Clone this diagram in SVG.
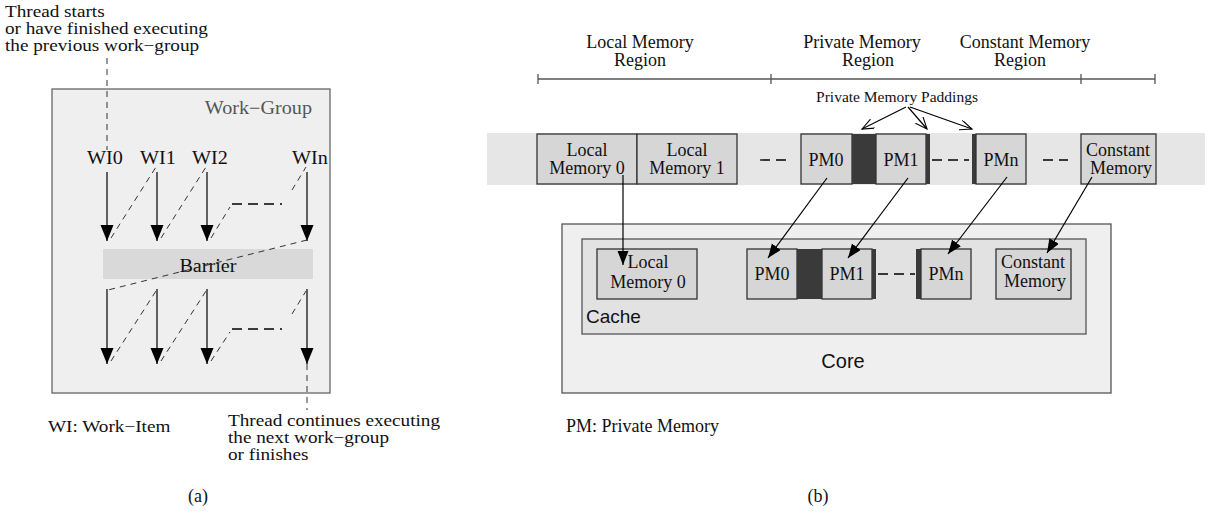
<svg xmlns="http://www.w3.org/2000/svg" width="1208" height="518" viewBox="0 0 1208 518">
<style>
text{font-family:"Liberation Serif","Times New Roman",serif;font-size:18px;fill:#111}
.sans{font-family:"Liberation Sans",Arial,sans-serif}
.mid{text-anchor:middle}
.note{font-size:16px;transform-box:fill-box;transform-origin:0 0;transform:scaleX(1.2)}
.wi{font-size:18px;transform-box:fill-box;transform-origin:50% 0;transform:scaleX(1.12)}
.wg{font-size:18px;fill:#555;transform-box:fill-box;transform-origin:100% 0;transform:scaleX(1.12)}
.box{fill:#d6d6d6;stroke:#333;stroke-width:1.3}
.ln{stroke:#000;stroke-width:1.2;fill:none}
.dsh{stroke:#333;stroke-width:1;stroke-dasharray:6,5;fill:none}
.hd{stroke:#000;stroke-width:1.3;stroke-dasharray:10,6;fill:none}
.pad{fill:#3a3a3a}
</style>
<defs>
<marker id="big" markerUnits="userSpaceOnUse" markerWidth="18" markerHeight="14" refX="16" refY="6.5" orient="auto"><path d="M0,0 L16,6.5 L0,13 z" fill="#000"/></marker>
<marker id="med" markerUnits="userSpaceOnUse" markerWidth="16" markerHeight="12" refX="14" refY="5.5" orient="auto"><path d="M0,0 L14,5.5 L0,11 z" fill="#000"/></marker>
<marker id="open" markerUnits="userSpaceOnUse" markerWidth="14" markerHeight="12" refX="12" refY="5" orient="auto"><path d="M0,0 L12,5 L0,10" fill="none" stroke="#000" stroke-width="1.1"/></marker>
</defs>

<!-- ===== (a) ===== -->
<g id="thread-start-note">
<text x="5" y="17" class="note">Thread starts</text>
<text x="5" y="34" class="note">or have finished executing</text>
<text x="5" y="51" class="note">the previous work−group</text>
</g>
<g id="work-group">
<rect x="52" y="89" width="278" height="304" fill="#efefef" stroke="#666" stroke-width="1.3"/>
<text x="312" y="114" class="wg" text-anchor="end">Work−Group</text>
</g>
<g id="wi-labels">
<text x="105" y="164" class="mid wi">WI0</text>
<text x="158" y="164" class="mid wi">WI1</text>
<text x="210" y="164" class="mid wi">WI2</text>
<text x="310" y="164" class="mid wi">WIn</text>
</g>
<g id="barrier">
<rect x="103" y="249" width="210" height="30" fill="#d9d9d9"/>
<text x="208" y="272" class="mid wi">Barrier</text>
</g>
<g id="wi-note"><text x="48" y="432" class="note">WI: Work−Item</text></g>
<g id="thread-end-note">
<text x="228" y="426" class="note">Thread continues executing</text>
<text x="228" y="443" class="note">the next work−group</text>
<text x="228" y="460" class="note">or finishes</text>
</g>
<g id="caption-a"><text x="198" y="502" class="mid">(a)</text></g>

<g id="connectors-a">
<line x1="107" y1="58" x2="107" y2="150" class="dsh"/>
<line x1="107" y1="172" x2="107" y2="241" class="ln" marker-end="url(#big)"/>
<line x1="157" y1="172" x2="157" y2="241" class="ln" marker-end="url(#big)"/>
<line x1="207" y1="172" x2="207" y2="241" class="ln" marker-end="url(#big)"/>
<line x1="307" y1="172" x2="307" y2="241" class="ln" marker-end="url(#big)"/>
<line x1="111" y1="238" x2="156" y2="167" class="dsh"/>
<line x1="161" y1="238" x2="206" y2="167" class="dsh"/>
<line x1="211" y1="238" x2="230" y2="207" class="dsh"/>
<line x1="232" y1="204" x2="282" y2="204" class="hd"/>
<line x1="292" y1="190" x2="306" y2="167" class="dsh"/>
<line x1="307" y1="240" x2="108" y2="290" class="dsh"/>
<line x1="107" y1="289" x2="107" y2="364" class="ln" marker-end="url(#big)"/>
<line x1="157" y1="289" x2="157" y2="364" class="ln" marker-end="url(#big)"/>
<line x1="207" y1="289" x2="207" y2="364" class="ln" marker-end="url(#big)"/>
<line x1="307" y1="289" x2="307" y2="364" class="ln" marker-end="url(#big)"/>
<line x1="111" y1="361" x2="156" y2="291" class="dsh"/>
<line x1="161" y1="361" x2="206" y2="291" class="dsh"/>
<line x1="211" y1="361" x2="230" y2="332" class="dsh"/>
<line x1="232" y1="329" x2="282" y2="329" class="hd"/>
<line x1="292" y1="314" x2="306" y2="291" class="dsh"/>
<line x1="307" y1="364" x2="307" y2="410" class="dsh"/>
</g>

<!-- ===== (b) ===== -->
<g id="region-labels">
<text x="640" y="48" class="mid">Local Memory</text>
<text x="640" y="66" class="mid">Region</text>
<text x="862" y="48" class="mid">Private Memory</text>
<text x="868" y="66" class="mid">Region</text>
<text x="1025" y="48" class="mid">Constant Memory</text>
<text x="1020" y="66" class="mid">Region</text>
<path d="M538,79 H1155 M538,74 V84 M771,74 V84 M1081,74 V84 M1155,74 V84" stroke="#555" stroke-width="1.3" fill="none"/>
</g>
<g id="paddings-label">
<text x="897" y="102" class="mid" style="font-size:15.5px">Private Memory Paddings</text>
</g>

<g id="memory-strip">
<rect x="487" y="133" width="718" height="52" fill="#e6e6e6"/>
</g>
<g id="mem-local0"><rect x="537" y="134" width="100" height="50" class="box"/>
<text x="587" y="156" class="mid">Local</text><text x="587" y="174" class="mid">Memory 0</text></g>
<g id="mem-local1"><rect x="637" y="134" width="100" height="50" class="box"/>
<text x="687" y="156" class="mid">Local</text><text x="687" y="174" class="mid">Memory 1</text></g>
<g id="mem-pm0"><rect x="801" y="134" width="51" height="50" class="box"/>
<text x="826" y="166" class="mid">PM0</text></g>
<g id="mem-pad0"><rect x="852" y="134" width="24" height="50" class="pad"/></g>
<g id="mem-pm1"><rect x="876" y="134" width="50" height="50" class="box"/>
<text x="901" y="166" class="mid">PM1</text></g>
<g id="mem-pad1"><rect x="926" y="134" width="4" height="50" class="pad"/></g>
<g id="mem-padn"><rect x="972" y="134" width="4" height="50" class="pad"/></g>
<g id="mem-pmn"><rect x="976" y="134" width="50" height="50" class="box"/>
<text x="1001" y="166" class="mid">PMn</text></g>
<g id="mem-const"><rect x="1081" y="134" width="75" height="50" class="box"/>
<text x="1118" y="156" class="mid">Constant</text><text x="1121" y="174" class="mid">Memory</text></g>
<g id="mem-ellipses">
<line x1="760" y1="160" x2="787" y2="160" class="hd" stroke-dasharray="6,5"/>
<line x1="932" y1="160" x2="969" y2="160" class="hd" stroke-dasharray="7,5"/>
<line x1="1043" y1="160" x2="1068" y2="160" class="hd" stroke-dasharray="7,11"/>
</g>

<g id="core">
<rect x="562" y="224" width="549" height="169" fill="#efefef" stroke="#555" stroke-width="1.3"/>
<text x="843" y="368" class="mid sans" style="font-size:20px">Core</text>
</g>
<g id="cache">
<rect x="582" y="239" width="504" height="95" fill="#e2e2e2" stroke="#555" stroke-width="1.3"/>
<text x="586" y="323" class="sans" style="font-size:19px">Cache</text>
</g>
<g id="c-local0"><rect x="597" y="249" width="100" height="50" class="box"/>
<text x="648" y="268" class="mid">Local</text><text x="648" y="288" class="mid">Memory 0</text></g>
<g id="c-pm0"><rect x="747" y="249" width="50" height="50" class="box"/>
<text x="772" y="280" class="mid">PM0</text></g>
<g id="c-pad0"><rect x="797" y="249" width="25" height="50" class="pad"/></g>
<g id="c-pm1"><rect x="822" y="249" width="50" height="50" class="box"/>
<text x="847" y="280" class="mid">PM1</text></g>
<g id="c-pad1"><rect x="872" y="249" width="4" height="50" class="pad"/></g>
<g id="c-padn"><rect x="916" y="249" width="5" height="50" class="pad"/></g>
<g id="c-pmn"><rect x="921" y="249" width="50" height="50" class="box"/>
<text x="946" y="280" class="mid">PMn</text></g>
<g id="c-const"><rect x="996" y="249" width="75" height="50" class="box"/>
<text x="1033" y="268" class="mid">Constant</text><text x="1035" y="287" class="mid">Memory</text></g>
<g id="c-ellipsis"><line x1="878" y1="274" x2="915" y2="274" class="hd" stroke-dasharray="7,5"/></g>

<g id="pm-note"><text x="566" y="432">PM: Private Memory</text></g>
<g id="caption-b"><text x="818" y="502" class="mid">(b)</text></g>

<g id="connectors-b">
<line x1="623" y1="175" x2="623" y2="265" class="ln" marker-end="url(#med)"/>
<line x1="827" y1="178" x2="768" y2="258" class="ln" marker-end="url(#med)"/>
<line x1="908" y1="178" x2="848" y2="258" class="ln" marker-end="url(#med)"/>
<line x1="1007" y1="177" x2="948" y2="254" class="ln" marker-end="url(#med)"/>
<line x1="1092" y1="177" x2="1047" y2="253" class="ln" marker-end="url(#med)"/>
<line x1="906" y1="107" x2="862" y2="129" class="ln" marker-end="url(#open)"/>
<line x1="908" y1="107" x2="927" y2="129" class="ln" marker-end="url(#open)"/>
<line x1="910" y1="107" x2="972" y2="129" class="ln" marker-end="url(#open)"/>
</g>
</svg>
